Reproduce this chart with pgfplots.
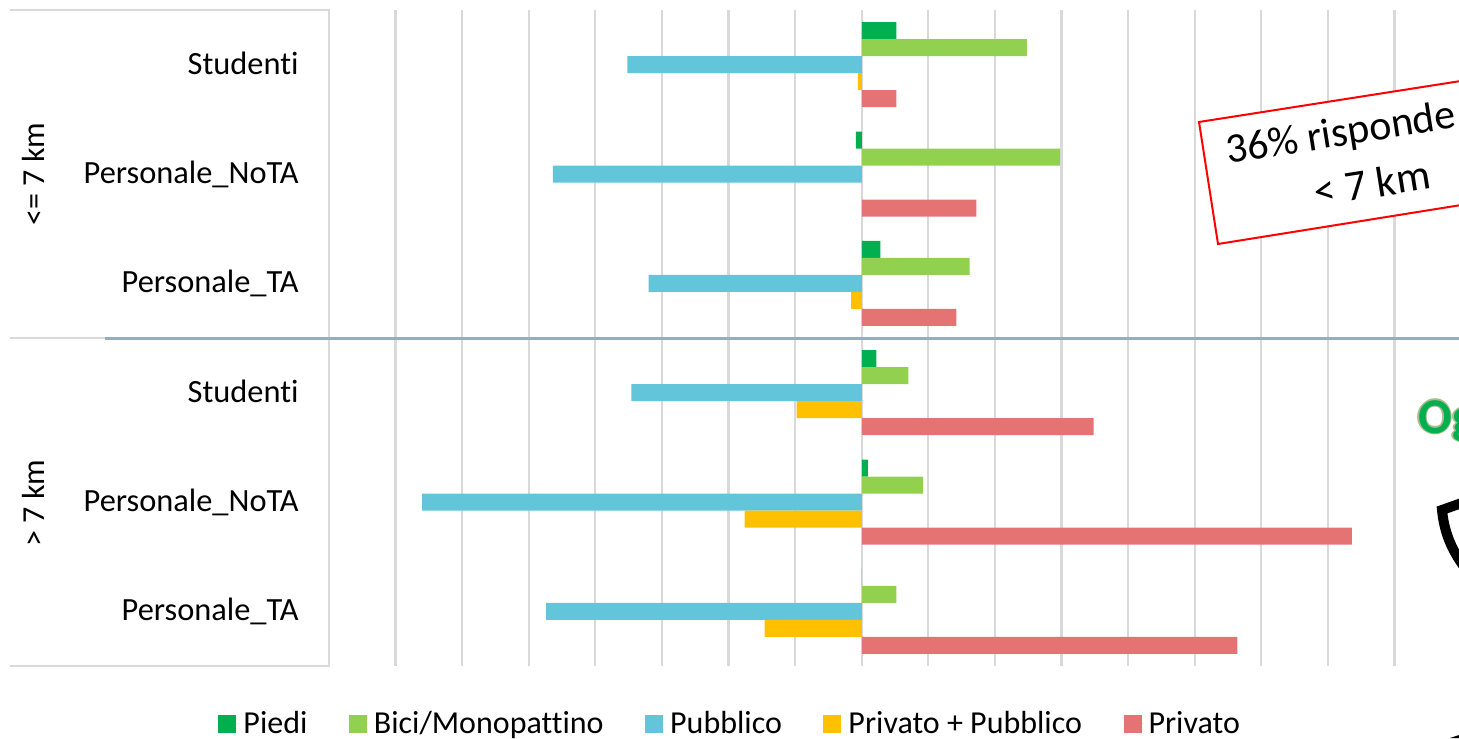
\documentclass[border=0pt]{standalone}
\usepackage{fontspec}
\setmainfont{Carlito}[Ligatures=NoCommon]
\usepackage{pgfplots}
\pgfplotsset{compat=1.18}
\usepackage{pgfplotstable}

\definecolor{piedi}{HTML}{00B050}
\definecolor{bici}{HTML}{92D050}
\definecolor{pubblico}{HTML}{63C5DA}
\definecolor{misto}{HTML}{FFC000}
\definecolor{privato}{HTML}{E57373}
\definecolor{griglia}{HTML}{D9D9D9}
\definecolor{sep}{HTML}{94AEBF}
\definecolor{alone}{HTML}{A9BD8E}

% y: 0-2 = <= 7 km, 3-5 = > 7 km; one grid step = 5
\pgfplotstableread{
y piedi bici pubblico misto privato
0 2.6 12.4 -17.6 -0.3 2.6
1 -0.45 14.9 -23.2 0 8.6
2 1.4 8.1 -16.0 -0.8 7.1
3 1.1 3.5 -17.3 -4.9 17.4
4 0.45 4.6 -33.0 -8.8 36.8
5 0 2.6 -23.7 -7.3 28.2
}\dati

\begin{document}
\begin{tikzpicture}
\path[use as bounding box,clip] (-164.5pt,-36pt) rectangle (565pt,333pt);
\begin{axis}[
    at={(0,0)}, anchor=south west,
    scale only axis,
    width=565pt, height=328pt,
    xbar, bar width=8.5pt,
    xmin=-40, xmax=44.84,
    ymin=-0.5, ymax=5.5,
    y dir=reverse,
    xtick={-40,-35,...,40},
    xticklabels={},
    xmajorgrids,
    grid style={griglia,line width=1.1pt},
    ytick={0,1,2,3,4,5},
    yticklabels={Studenti,Personale\_NoTA,Personale\_TA,Studenti,Personale\_NoTA,Personale\_TA},
    yticklabel style={inner sep=0pt,xshift=-15pt,yshift=-0.8pt,text height=11pt,text depth=3pt,font=\fontsize{16.2pt}{18pt}\selectfont},
    major tick length=0pt,
    axis line style={draw=none},
    legend columns=5,
    legend cell align=left,
    legend image code/.code={\fill[#1,draw=none] (0pt,-4.5pt) rectangle (9pt,4.5pt);\path (0pt,0pt) -- (10.5pt,0pt);},
    legend style={at={(0.3559,-0.0884)},anchor=center,draw=none,fill=none,
      font=\fontsize{16pt}{18pt}\selectfont,
      /tikz/every even column/.append style={column sep=18.75pt}},
]
\addplot[fill=piedi,draw=none,bar shift=17pt] table[x=piedi,y=y] {\dati};
\addplot[fill=bici,draw=none,bar shift=8.5pt] table[x=bici,y=y] {\dati};
\addplot[fill=pubblico,draw=none,bar shift=0pt] table[x=pubblico,y=y] {\dati};
\addplot[fill=misto,draw=none,bar shift=-8.5pt] table[x=misto,y=y] {\dati};
\addplot[fill=privato,draw=none,bar shift=-17pt] table[x=privato,y=y] {\dati};
\legend{Piedi,Bici/Monopattino,Pubblico,Privato + Pubblico,Privato}
\end{axis}
\begin{scope}[x=0.5pt,y=-0.5pt,shift={(-164.5pt,333pt)}]
  % cornice delle etichette
  \draw[griglia,line width=1.1pt] (10,10) -- (329,10) -- (329,666) -- (10,666);
  \draw[griglia,line width=1.1pt] (10,338) -- (105,338);
  \draw[sep,line width=1.3pt] (105,338.5) -- (1459,338.5);
  \node[rotate=90,font=\fontsize{16pt}{18pt}\selectfont] at (33,174) {<= 7 km};
  \node[rotate=90,font=\fontsize{16pt}{18pt}\selectfont] at (33,503) {> 7 km};
  % riquadro
  \path[fill=white,draw=red,line width=1pt] (1480,78) -- (1199,122) -- (1218,244) -- (1480,202);
  \node[rotate=9,anchor=west,inner sep=0pt,font=\fontsize{21pt}{23pt}\selectfont] at (1226,153) {36\% risponde};
  \node[rotate=9,inner sep=0pt,font=\fontsize{21.5pt}{23pt}\selectfont] at (1372,183) {< 7 km};
  % testo e scudo tagliati dal bordo
  \foreach \dx/\dy in {-1.5/0,1.5/0,0/-1.5,0/1.5}
    \node[anchor=west,inner sep=0pt,text=alone,font=\fontsize{25pt}{27pt}\selectfont\bfseries] at (1418+\dx,421+\dy) {Og};
  \node[anchor=west,inner sep=0pt,text=piedi,font=\fontsize{25pt}{27pt}\selectfont\bfseries] at (1418,421) {Og};
  \draw[black,line width=5pt] (1470,500) -- (1442,510) .. controls (1444,530) and (1450,548) .. (1465,568);
  \fill[black] (1450,738) -- (1459,735) -- (1459,738) -- cycle;
\end{scope}
\end{tikzpicture}
\end{document}
